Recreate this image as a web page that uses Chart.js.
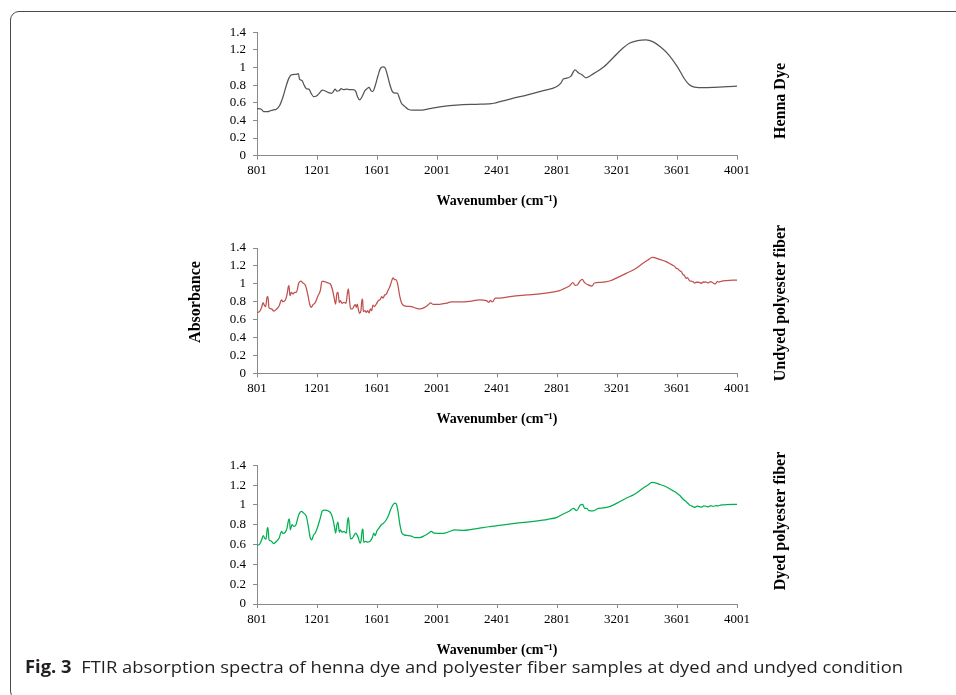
<!DOCTYPE html>
<html>
<head>
<meta charset="utf-8">
<script src="https://cdn.jsdelivr.net/npm/chart.js@4.4.1/dist/chart.umd.min.js"></script>
<style>
html,body{margin:0;padding:0;background:#fff;overflow:hidden;}
#wrap{position:relative;width:956px;height:695px;overflow:hidden;background:#fff;}
#frame{position:absolute;left:10px;top:11px;width:1000px;height:689px;border:1.3px solid #4a4a4a;border-radius:9px;box-sizing:border-box;}
canvas{position:absolute;left:0;}
#cap{position:absolute;left:25px;top:657px;font-family:"Open Sans","Noto Sans",sans-serif;font-size:17px;line-height:20px;white-space:nowrap;color:#231f20;transform-origin:0 50%;}
#cap b{font-weight:700;}
</style>
</head>
<body>
<div id="wrap">
<div id="frame"></div>
<canvas id="c1"></canvas>
<canvas id="c2"></canvas>
<canvas id="c3"></canvas>
<div id="cap"><b>Fig. 3</b>&nbsp;&nbsp;FTIR absorption spectra of henna dye and polyester fiber samples at dyed and undyed condition</div>
</div>
<script>
// ---- tick labels ----
const xTickLabels = [801, 1201, 1601, 2001, 2401, 2801, 3201, 3601, 4001];
const yTickLabels = [0, 0.2, 0.4, 0.6, 0.8, 1, 1.2, 1.4];

// ---- Henna Dye ----
const hennaWn = [801,830,845,874,890,912,930,952,974,997,1014,1030,1059,1077,1085,1101,1114,1130,1148,1163,1179,1197,1214,1237,1252,1274,1297,1308,1321,1334,1348,1363,1379,1397,1419,1441,1459,1472,1485,1503,1519,1534,1548,1563,1574,1590,1608,1625,1641,1654,1668,1685,1703,1719,1737,1748,1763,1785,1808,1841,1885,1952,2019,2085,2174,2263,2363,2380,2494,2605,2716,2794,2827,2845,2867,2894,2921,2943,2965,2994,3050,3116,3183,3239,3283,3339,3394,3439,3494,3550,3605,3650,3683,3716,3783,3850,3939,4001];
const hennaAbs = [0.534,0.527,0.50,0.50,0.51,0.52,0.527,0.57,0.666,0.80,0.88,0.918,0.922,0.93,0.866,0.854,0.805,0.76,0.753,0.704,0.67,0.677,0.704,0.745,0.737,0.719,0.707,0.722,0.756,0.734,0.737,0.76,0.749,0.756,0.749,0.749,0.73,0.666,0.632,0.674,0.734,0.76,0.775,0.734,0.73,0.80,0.91,0.993,1.008,1.0,0.93,0.817,0.73,0.711,0.711,0.666,0.598,0.56,0.527,0.516,0.516,0.534,0.553,0.568,0.58,0.583,0.59,0.595,0.645,0.69,0.74,0.78,0.824,0.873,0.88,0.903,0.975,0.94,0.922,0.884,0.937,1.012,1.125,1.219,1.276,1.306,1.313,1.294,1.23,1.136,1.005,0.873,0.805,0.779,0.771,0.775,0.783,0.79];

// ---- Undyed polyester fiber ----
const undyedWn = [801,819,832,841,850,859,868,874,881,897,914,930,948,965,974,990,1001,1010,1014,1021,1030,1041,1052,1063,1079,1092,1108,1125,1141,1152,1163,1174,1188,1208,1223,1234,1245,1268,1290,1303,1314,1325,1334,1341,1350,1357,1368,1381,1394,1403,1410,1417,1425,1437,1448,1456,1463,1470,1476,1485,1494,1501,1505,1510,1521,1530,1539,1548,1557,1565,1574,1583,1596,1610,1623,1632,1641,1652,1663,1676,1685,1696,1707,1719,1730,1741,1752,1765,1781,1808,1830,1863,1885,1919,1941,1959,1974,2019,2063,2097,2152,2219,2285,2330,2348,2357,2370,2390,2414,2500,2600,2700,2780,2818,2851,2885,2907,2922,2936,2956,2969,2985,3007,3034,3051,3096,3151,3207,3262,3318,3374,3407,3436,3485,3529,3562,3575,3585,3596,3608,3618,3630,3640,3650,3662,3670,3685,3695,3707,3720,3730,3751,3765,3775,3796,3810,3825,3840,3856,3870,3880,3900,3929,4001];
const undyedAbs = [0.678,0.692,0.737,0.789,0.76,0.745,0.849,0.856,0.73,0.719,0.696,0.715,0.752,0.819,0.80,0.819,0.879,0.968,0.979,0.867,0.905,0.886,0.905,0.905,1.005,1.031,1.009,0.979,0.867,0.774,0.737,0.767,0.786,0.867,0.923,1.028,1.028,1.013,0.998,0.942,0.856,0.774,0.894,0.905,0.789,0.812,0.782,0.793,0.782,0.886,0.942,0.83,0.719,0.719,0.752,0.767,0.737,0.774,0.719,0.67,0.70,0.83,0.819,0.689,0.70,0.681,0.70,0.674,0.719,0.70,0.763,0.745,0.774,0.812,0.826,0.856,0.841,0.875,0.886,0.931,0.961,1.016,1.065,1.046,1.042,0.979,0.867,0.786,0.756,0.748,0.745,0.726,0.719,0.737,0.763,0.786,0.771,0.771,0.782,0.797,0.797,0.804,0.819,0.812,0.793,0.815,0.797,0.841,0.841,0.86,0.875,0.89,0.91,0.923,0.949,0.979,1.013,0.983,0.987,1.035,1.05,1.013,0.99,0.975,1.009,1.016,1.031,1.072,1.117,1.162,1.229,1.266,1.296,1.273,1.247,1.217,1.205,1.195,1.173,1.165,1.147,1.135,1.106,1.095,1.061,1.07,1.035,1.03,1.024,1.008,1.02,1.016,1.004,1.022,1.02,1.01,1.025,1.012,0.998,1.026,1.02,1.03,1.035,1.042];

// ---- Dyed polyester fiber ----
const dyedWn = [801,819,832,843,852,861,870,874,881,894,912,930,948,965,974,990,1001,1012,1017,1023,1034,1048,1061,1074,1085,1097,1112,1130,1143,1157,1166,1177,1192,1210,1223,1237,1252,1274,1297,1308,1319,1325,1334,1341,1350,1357,1368,1381,1397,1403,1410,1417,1425,1437,1450,1459,1468,1476,1488,1494,1503,1508,1512,1525,1541,1557,1570,1579,1588,1601,1614,1630,1645,1663,1681,1694,1708,1719,1730,1741,1752,1765,1781,1808,1830,1852,1885,1919,1945,1963,1981,2041,2085,2119,2174,2241,2308,2363,2414,2520,2643,2740,2801,2843,2885,2910,2932,2956,2972,2985,2999,3014,3043,3077,3110,3151,3207,3262,3318,3374,3407,3434,3485,3529,3573,3590,3607,3620,3636,3648,3662,3675,3685,3695,3707,3720,3735,3751,3765,3780,3796,3810,3825,3840,3862,3875,3890,3910,3929,4001];
const dyedAbs = [0.59,0.604,0.648,0.691,0.664,0.654,0.766,0.772,0.648,0.637,0.61,0.631,0.664,0.732,0.712,0.725,0.766,0.85,0.857,0.749,0.80,0.783,0.80,0.874,0.917,0.934,0.917,0.884,0.783,0.664,0.648,0.691,0.725,0.80,0.867,0.941,0.948,0.941,0.907,0.85,0.766,0.715,0.80,0.826,0.725,0.749,0.725,0.732,0.715,0.816,0.874,0.766,0.658,0.664,0.698,0.715,0.698,0.671,0.614,0.631,0.749,0.755,0.624,0.631,0.624,0.637,0.671,0.715,0.691,0.739,0.766,0.80,0.816,0.85,0.907,0.961,1.002,1.019,1.009,0.934,0.816,0.725,0.698,0.691,0.685,0.671,0.671,0.691,0.715,0.732,0.715,0.712,0.732,0.749,0.742,0.755,0.772,0.783,0.793,0.815,0.835,0.855,0.875,0.909,0.939,0.966,0.942,0.999,1.006,0.966,0.966,0.942,0.939,0.966,0.97,0.982,1.023,1.067,1.107,1.168,1.201,1.228,1.208,1.184,1.144,1.13,1.11,1.095,1.067,1.05,1.033,1.015,0.999,0.992,0.982,0.975,0.988,0.982,0.978,0.99,0.986,0.98,0.993,0.985,0.993,0.99,0.998,1.0,1.003,1.006];

const AXIS_COLOR = '#8a8a8a';
const SERIF = '"Liberation Serif","Times New Roman",serif';

const sideLabels = {
  id: 'sideLabels',
  afterDraw(chart, args, opts) {
    const ctx = chart.ctx;
    (opts.items || []).forEach(it => {
      ctx.save();
      ctx.translate(it.x, it.y - opts.offsetTop);
      ctx.rotate(-Math.PI / 2);
      ctx.font = 'bold 16px ' + SERIF;
      ctx.fillStyle = '#000';
      ctx.textAlign = 'center';
      ctx.textBaseline = 'middle';
      ctx.fillText(it.text, 0, 0);
      ctx.restore();
    });
  }
};

function makeChart(id, wn, abs, color, plotTop, plotBottom, items) {
  const XH = 54.4;
  const top = Math.floor(plotTop) - 32;
  const h = Math.ceil(plotBottom) + 62 - top;
  const cv = document.getElementById(id);
  cv.width = 956; cv.height = h;
  cv.style.width = '956px'; cv.style.height = h + 'px';
  cv.style.top = top + 'px';
  const n = Math.min(wn.length, abs.length);
  const pts = [];
  for (let i = 0; i < n; i++) pts.push({x: wn[i], y: abs[i]});
  return new Chart(cv, {
    type: 'line',
    data: { datasets: [{ data: pts, borderColor: color, borderWidth: 1.25, pointRadius: 0, fill: false, cubicInterpolationMode: 'monotone' }] },
    options: {
      responsive: false, maintainAspectRatio: false, animation: false,
      layout: { padding: { left: 217, right: 219, top: plotTop - top, bottom: h - (plotBottom - top) - XH } },
      plugins: { legend: { display: false }, tooltip: { enabled: false }, sideLabels: { items: items, offsetTop: top } },
      scales: {
        x: {
          type: 'linear', min: 801, max: 4001,
          afterBuildTicks: s => { s.ticks = xTickLabels.map(v => ({ value: v })); },
          afterFit: s => { s.height = XH; },
          ticks: { callback: v => String(v), color: '#000', font: { family: SERIF, size: 13 }, padding: 3.5, maxRotation: 0, autoSkip: false },
          grid: { display: true, drawOnChartArea: false, drawTicks: true, tickLength: 4, color: AXIS_COLOR },
          border: { display: true, color: AXIS_COLOR, width: 1 },
          title: { display: true, text: 'Wavenumber (cm⁻¹)', color: '#000', font: { family: SERIF, size: 14, weight: 'bold' }, padding: { top: 0, bottom: 0 } }
        },
        y: {
          type: 'linear', min: 0, max: 1.4,
          afterBuildTicks: s => { s.ticks = yTickLabels.map(v => ({ value: v })); },
          afterFit: s => { s.width = 40; },
          ticks: { callback: v => String(v), color: '#000', font: { family: SERIF, size: 13 }, padding: 7, autoSkip: false },
          grid: { display: true, drawOnChartArea: false, drawTicks: true, tickLength: 4, color: AXIS_COLOR },
          border: { display: true, color: AXIS_COLOR, width: 1 }
        }
      }
    },
    plugins: [sideLabels]
  });
}

makeChart('c1', hennaWn, hennaAbs, '#555555', 32.3, 155.7, [{ text: 'Henna Dye', x: 781, y: 101 }]);
makeChart('c2', undyedWn, undyedAbs, '#c0504d', 248, 373.3, [{ text: 'Undyed polyester fiber', x: 781, y: 303 }, { text: 'Absorbance', x: 196, y: 302 }]);
makeChart('c3', dyedWn, dyedAbs, '#00b050', 465.3, 604, [{ text: 'Dyed polyester fiber', x: 781, y: 521 }]);

const cap = document.getElementById('cap');
const w = cap.getBoundingClientRect().width;
if (w > 0) cap.style.transform = 'scaleX(' + (878 / w) + ')';
</script>
</body>
</html>
